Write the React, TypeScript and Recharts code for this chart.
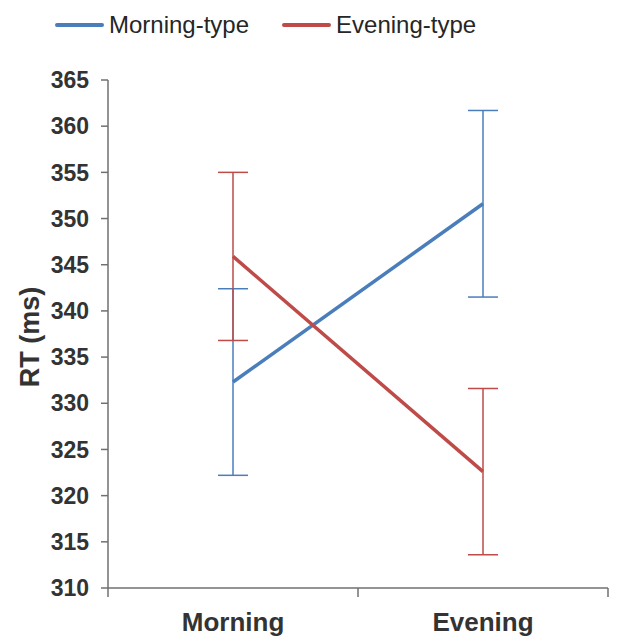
import React from 'react';
import { LineChart, Line, XAxis, YAxis, ErrorBar, Legend } from 'recharts';

const conditions = ['Morning', 'Evening'];
const morningType = [332.3, 351.6];
const morningTypeErr = [10.1, 10.1];
const eveningType = [345.9, 322.6];
const eveningTypeErr = [9.1, 9.0];
const yTicks = [310, 315, 320, 325, 330, 335, 340, 345, 350, 355, 360, 365];

const BLUE = '#4A7EBB';
const RED = '#BE4B48';
const FONT = '"Liberation Sans", Arial, sans-serif';
const TEXT = '#333333';
const AXIS = '#707070';

const data = conditions.map((c, i) => ({
  x: i + 0.5,
  name: c,
  morning: morningType[i],
  morningErr: morningTypeErr[i],
  evening: eveningType[i],
  eveningErr: eveningTypeErr[i],
}));

const seriesInfo = [
  { name: 'Morning-type', color: BLUE },
  { name: 'Evening-type', color: RED },
];

const LegendContent = () => (
  <div style={{ display: 'flex', alignItems: 'center', paddingLeft: 55, height: 30, fontFamily: FONT }}>
    {seriesInfo.map((s, i) => (
      <div key={s.name} style={{ display: 'flex', alignItems: 'center', marginRight: i === 0 ? 33 : 0 }}>
        <div style={{ width: 49, height: 4, background: s.color, borderRadius: 2, marginRight: 5 }} />
        <span style={{ fontSize: 24, color: '#262626' }}>{s.name}</span>
      </div>
    ))}
  </div>
);

const YLabel = (props: any) => {
  const vb = props.viewBox || {};
  const cx = 30;
  const cy = (vb.y || 0) + (vb.height || 0) / 2 + 3;
  return (
    <text
      x={cx}
      y={cy}
      transform={`rotate(-90 ${cx} ${cy})`}
      textAnchor="middle"
      dominantBaseline="central"
      fontFamily={FONT}
      fontWeight="bold"
      fontSize={27}
      fill={TEXT}
    >
      RT (ms)
    </text>
  );
};

export default function App() {
  return (
    <div style={{ position: 'absolute', left: 0, top: 0 }}>
      <LineChart
        width={622}
        height={637}
        data={data}
        margin={{ top: 10, right: 14, bottom: 0, left: 0 }}
      >
        <Legend
          verticalAlign="top"
          align="left"
          height={70}
          content={<LegendContent />}
          wrapperStyle={{ top: 10, left: 0 }}
        />
        <XAxis
          xAxisId="bounds"
          type="number"
          dataKey="x"
          domain={[0, 2]}
          ticks={[0, 1, 2]}
          tickFormatter={() => ''}
          height={10}
          tickSize={9}
          stroke={AXIS}
          strokeWidth={1.5}
          tickLine={{ stroke: AXIS, strokeWidth: 1.5 }}
        />
        <XAxis
          xAxisId="labels"
          type="number"
          dataKey="x"
          domain={[0, 2]}
          ticks={[0.5, 1.5]}
          tickFormatter={(v: number) => conditions[Math.floor(v)]}
          height={39}
          axisLine={false}
          tickLine={false}
          tickSize={0}
          tickMargin={15}
          tick={{ fontFamily: FONT, fontWeight: 'bold', fontSize: 26, fill: TEXT }}
        />
        <YAxis
          type="number"
          domain={[310, 365]}
          ticks={yTicks}
          width={108}
          tickSize={7}
          tickMargin={12}
          stroke={AXIS}
          strokeWidth={1.5}
          tickLine={{ stroke: AXIS, strokeWidth: 1.5 }}
          tick={{ fontFamily: FONT, fontWeight: 'bold', fontSize: 23, fill: TEXT }}
          label={<YLabel />}
          interval={0}
        />
        <Line
          xAxisId="bounds"
          dataKey="morning"
          name="Morning-type"
          stroke={BLUE}
          strokeWidth={3.5}
          dot={false}
          isAnimationActive={false}
        >
          <ErrorBar dataKey="morningErr" direction="y" width={15} stroke={BLUE} strokeWidth={1.5} />
        </Line>
        <Line
          xAxisId="bounds"
          dataKey="evening"
          name="Evening-type"
          stroke={RED}
          strokeWidth={3.5}
          dot={false}
          isAnimationActive={false}
        >
          <ErrorBar dataKey="eveningErr" direction="y" width={15} stroke={RED} strokeWidth={1.5} />
        </Line>
      </LineChart>
    </div>
  );
}
